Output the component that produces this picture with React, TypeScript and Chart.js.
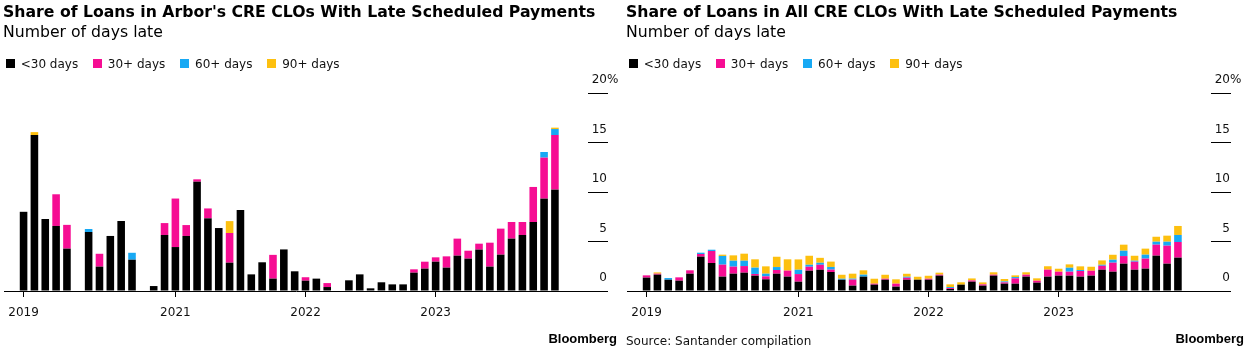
import React, { useEffect, useRef } from 'react';
import { Chart, registerables } from 'chart.js';

Chart.register(...registerables);

// ---------- data ----------
const yearTickIndex = [0, 14, 26, 38];
const yearTickLabels = ['2019', '2021', '2022', '2023'];
const seriesNames = ['<30 days', '30+ days', '60+ days', '90+ days'];
const seriesColors = ['#000000', '#f60d93', '#17a9f4', '#fdc00f'];

const arborUnder30 = [8.0, 15.75, 7.27, 6.57, 4.28, 0, 5.96, 2.46, 5.56, 7.07, 3.16, 0, 0.5, 5.66, 4.44, 5.56, 11.04, 7.34, 6.36, 2.86, 8.18, 1.68, 2.9, 1.25, 4.2, 1.99, 1.04, 1.25, 0.4, 0, 1.08, 1.68, 0.27, 0.88, 0.67, 0.67, 1.85, 2.26, 2.96, 2.36, 3.57, 3.27, 4.18, 2.46, 3.67, 5.29, 5.66, 6.97, 9.33, 10.24];
const arbor30 = [0, 0, 0, 3.2, 2.4, 0, 0, 1.3, 0, 0, 0, 0, 0, 1.2, 4.9, 1.1, 0.24, 1.0, 0, 3.0, 0, 0, 0, 2.4, 0, 0, 0.35, 0, 0.4, 0, 0, 0, 0, 0, 0, 0, 0.34, 0.7, 0.44, 1.14, 1.72, 0.8, 0.6, 2.42, 2.63, 1.68, 1.31, 3.54, 4.14, 5.52];
const arbor60 = [0, 0, 0, 0, 0, 0, 0.3, 0, 0, 0, 0.7, 0, 0, 0, 0, 0, 0, 0, 0, 0, 0, 0, 0, 0, 0, 0, 0, 0, 0, 0, 0, 0, 0, 0, 0, 0, 0, 0, 0, 0, 0, 0, 0, 0, 0, 0, 0, 0, 0.57, 0.6];
const arbor90 = [0, 0.3, 0, 0, 0, 0, 0, 0, 0, 0, 0, 0, 0, 0, 0, 0, 0, 0, 0, 1.2, 0, 0, 0, 0, 0, 0, 0, 0, 0, 0, 0, 0, 0, 0, 0, 0, 0, 0, 0, 0, 0, 0, 0, 0, 0, 0, 0, 0, 0, 0.14];

const allUnder30 = [1.35, 1.65, 1.14, 1.04, 1.75, 3.47, 2.83, 1.45, 1.75, 1.85, 1.55, 1.18, 1.75, 1.45, 0.94, 2.05, 2.15, 1.92, 1.14, 0.54, 1.45, 0.64, 1.14, 0.44, 1.14, 1.14, 1.14, 1.55, 0.2, 0.64, 0.94, 0.54, 1.55, 0.74, 0.74, 1.45, 0.84, 1.45, 1.55, 1.55, 1.45, 1.55, 2.15, 1.95, 2.76, 2.15, 2.26, 3.57, 2.76, 3.37];
const all30 = [0.23, 0.1, 0, 0.34, 0.34, 0.27, 1.21, 1.21, 0.71, 0.67, 0.17, 0.3, 0.37, 0.61, 0.77, 0.4, 0.5, 0.24, 0, 0.61, 0, 0.1, 0.1, 0.3, 0.2, 0, 0.1, 0.1, 0.1, 0, 0.13, 0.13, 0.1, 0.13, 0.54, 0.2, 0.2, 0.71, 0.4, 0.4, 0.57, 0.5, 0.4, 0.91, 0.77, 0.81, 1.01, 1.11, 1.82, 1.58];
const all60 = [0, 0, 0.17, 0, 0, 0.13, 0.13, 0.88, 0.6, 0.54, 0.64, 0.27, 0.3, 0, 0.44, 0.2, 0.2, 0.27, 0.1, 0.1, 0.2, 0, 0, 0, 0.1, 0, 0, 0, 0.1, 0, 0, 0, 0, 0.1, 0.13, 0, 0, 0, 0, 0.4, 0.1, 0, 0.1, 0.3, 0.54, 0.1, 0.4, 0.3, 0.4, 0.71];
const all90 = [0, 0.13, 0, 0, 0, 0, 0, 0.13, 0.54, 0.71, 0.84, 0.74, 1.04, 1.14, 1.04, 0.91, 0.5, 0.54, 0.4, 0.5, 0.44, 0.5, 0.4, 0.44, 0.3, 0.3, 0.3, 0.2, 0.27, 0.24, 0.2, 0.2, 0.24, 0.24, 0.17, 0.24, 0.24, 0.34, 0.3, 0.34, 0.37, 0.4, 0.44, 0.5, 0.61, 0.5, 0.61, 0.5, 0.61, 0.91];

// ---------- styling ----------
const FONT = "'DejaVu Sans', sans-serif";
const TEXT = '#111';
const LABEL_LIFT = -13;
const TICK_LEN = 20;

const percentPlugin = {
  id: 'percentSign',
  afterDraw(chart: any) {
    const s = chart.scales.y;
    const ctx = chart.ctx;
    ctx.save();
    ctx.font = `12px ${FONT}`;
    ctx.fillStyle = TEXT;
    ctx.textAlign = 'left';
    ctx.textBaseline = 'middle';
    ctx.fillText('%', s.left + TICK_LEN - 1, s.getPixelForValue(s.max) + LABEL_LIFT);
    ctx.restore();
  },
};

type PanelProps = {
  left: number;
  width: number;
  title: string;
  series: number[][];
  footerSource?: string;
  logoRight: number;
};

function Panel({ left, width, title, series, footerSource, logoRight }: PanelProps) {
  const ref = useRef<HTMLCanvasElement>(null);
  useEffect(() => {
    if (!ref.current) return;
    const chart = new Chart(ref.current, {
      type: 'bar',
      data: {
        datasets: series.map((vals, k) => ({
          label: seriesNames[k],
          data: vals.map((y, x) => ({ x, y })),
          backgroundColor: seriesColors[k],
          borderWidth: 0,
          barPercentage: 0.7,
          categoryPercentage: 1,
        })),
      },
      options: {
        responsive: false,
        animation: false,
        devicePixelRatio: 1,
        layout: { padding: { left: 3, right: width - 588 - TICK_LEN, top: 93, bottom: 24.2 } },
        plugins: {
          legend: { display: false },
          tooltip: { enabled: false },
          title: { display: false },
        },
        scales: {
          x: {
            type: 'linear',
            stacked: true,
            bounds: 'data',
            min: -1.72,
            max: 52.05,
            offset: false,
            grid: { offset: false, drawOnChartArea: false, drawTicks: true, tickLength: 6, tickColor: '#000', lineWidth: 1 },
            border: { display: true, color: '#000', width: 1 },
            afterBuildTicks: (scale: any) => {
              scale.ticks = yearTickIndex.map((v) => ({ value: v }));
            },
            ticks: {
              autoSkip: false,
              maxRotation: 0,
              padding: 8.2,
              color: TEXT,
              font: { family: FONT, size: 12 },
              callback: (v: any) => {
                const i = yearTickIndex.indexOf(Number(v));
                return i >= 0 ? yearTickLabels[i] : '';
              },
            },
          },
          y: {
            type: 'linear',
            position: 'right',
            stacked: true,
            min: 0,
            max: 20,
            grid: { drawOnChartArea: false, drawTicks: true, tickLength: TICK_LEN, tickColor: '#000', lineWidth: 1 },
            border: { display: false },
            afterFit: (scale: any) => {
              scale.width = TICK_LEN;
            },
            ticks: {
              stepSize: 5,
              includeBounds: false,
              mirror: true,
              padding: TICK_LEN - 1,
              labelOffset: LABEL_LIFT,
              color: TEXT,
              font: { family: FONT, size: 12 },
            },
          },
        },
      } as any,
      plugins: [percentPlugin],
    });
    return () => chart.destroy();
  }, []);

  return (
    <div style={{ position: 'absolute', left, top: 0, width, height: 352 }}>
      <canvas ref={ref} width={width} height={352} style={{ position: 'absolute', left: 0, top: 0, width, height: 352, display: 'block' }} />
      <div style={{ position: 'absolute', left: 3, top: 2, whiteSpace: 'nowrap', font: `bold 15.7px/20px ${FONT}`, color: '#000' }}>{title}</div>
      <div style={{ position: 'absolute', left: 3, top: 22.2, whiteSpace: 'nowrap', font: `15.7px/20px ${FONT}`, color: '#000' }}>Number of days late</div>
      <div style={{ position: 'absolute', left: 6, top: 56.6, display: 'flex', whiteSpace: 'nowrap', font: `12px/14px ${FONT}`, color: TEXT }}>
        {seriesNames.map((n, k) => (
          <div key={n} style={{ display: 'flex', alignItems: 'center', marginRight: 15 }}>
            <span style={{ display: 'inline-block', width: 9, height: 9, background: seriesColors[k], marginRight: 5.7 }} />
            <span>{n}</span>
          </div>
        ))}
      </div>
      {footerSource ? (
        <div style={{ position: 'absolute', left: 3, top: 333.9, whiteSpace: 'nowrap', font: `12px/14px ${FONT}`, color: TEXT }}>{footerSource}</div>
      ) : null}
      <div style={{ position: 'absolute', right: logoRight, top: 331.3, whiteSpace: 'nowrap', font: `bold 13px/15px 'Liberation Sans', sans-serif`, color: '#000' }}>Bloomberg</div>
    </div>
  );
}

export default function App() {
  return (
    <div style={{ position: 'absolute', left: 0, top: 0, width: 1248, height: 352, background: '#fff', overflow: 'hidden' }}>
      <Panel
        left={0}
        width={623}
        title="Share of Loans in Arbor's CRE CLOs With Late Scheduled Payments"
        series={[arborUnder30, arbor30, arbor60, arbor90]}
        logoRight={6}
      />
      <Panel
        left={623}
        width={625}
        title="Share of Loans in All CRE CLOs With Late Scheduled Payments"
        series={[allUnder30, all30, all60, all90]}
        footerSource="Source: Santander compilation"
        logoRight={4}
      />
    </div>
  );
}
